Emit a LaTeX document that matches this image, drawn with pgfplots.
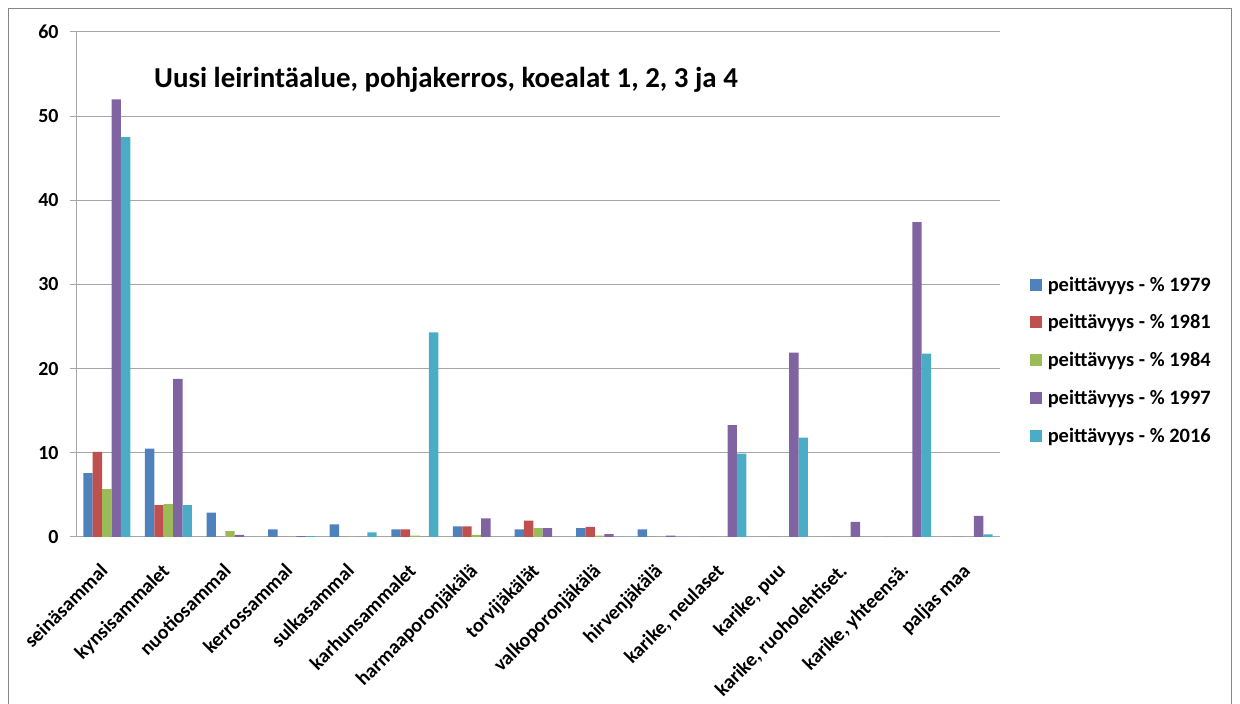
\documentclass[border=0pt]{standalone}
\usepackage{fontspec}
\setmainfont{Carlito}
\usepackage{pgfplots}
\pgfplotsset{compat=1.18}
\definecolor{c1}{HTML}{4F81BD}
\definecolor{c2}{HTML}{C0504D}
\definecolor{c3}{HTML}{9BBB59}
\definecolor{c4}{HTML}{8064A2}
\definecolor{c5}{HTML}{4BACC6}
\definecolor{gridc}{HTML}{A6A6A6}
\definecolor{framec}{HTML}{868686}
\begin{document}
\begin{tikzpicture}[x=1bp,y=1bp]
\useasboundingbox (0,0) rectangle (1240,704);
\draw[framec, line width=1.5bp] (8.5,0) -- (8.5,695.5) -- (1231.5,695.5) -- (1231.5,0);
\begin{axis}[
  at={(76bp,167bp)}, anchor=south west,
  width=924bp, height=505bp, scale only axis,
  ybar=0pt, bar width=9.4bp,
  xmin=-0.5, xmax=14.5, ymin=0, ymax=60,
  ytick={0,10,...,60},
  ymajorgrids, grid style={gridc, line width=1bp},
  axis x line*=bottom, axis y line*=left,
  axis line style={gridc, line width=1bp, -},
  xtick={0,...,14},
  xticklabels={seinäsammal,kynsisammalet,nuotiosammal,kerrossammal,sulkasammal,karhunsammalet,harmaaporonjäkälä,torvijäkälät,valkoporonjäkälä,hirvenjäkälä,{karike, neulaset},{karike, puu},{karike, ruoholehtiset.},{karike, yhteensä.},paljas maa},
  x tick label style={rotate=45, anchor=north east, font=\bfseries\fontsize{20}{24}\selectfont, inner sep=1bp, xshift=-18bp, yshift=-7bp},
  y tick label style={font=\bfseries\fontsize{20}{24}\selectfont, xshift=-8bp},
  /pgf/number format/assume math mode=true,
  major x tick style={draw=none},
  y tick style={gridc, line width=1bp},
  tick align=outside, major tick length=6bp,
  extra x ticks={-0.5,0.5,...,14.5},
  extra x tick labels={},
  extra x tick style={grid=none, major tick length=6bp, tick style={gridc, line width=1bp, draw=gridc}},
  legend style={at={(1.032,0.35)}, anchor=west, draw=none, fill=none,
    font=\bfseries\fontsize{20.5}{24}\selectfont, row sep=18bp, inner sep=0pt},
  legend cell align=left,
  legend image code/.code={\fill[#1] (0bp,-6bp) rectangle (12bp,6bp); \path (16bp,0bp);},
  clip=false,
]
\addplot[fill=c1, draw=none] coordinates {(0,7.6)(1,10.5)(2,2.9)(3,0.9)(4,1.5)(5,0.9)(6,1.25)(7,0.9)(8,1.05)(9,0.9)(10,0)(11,0)(12,0)(13,0)(14,0)};
\addplot[fill=c2, draw=none] coordinates {(0,10.1)(1,3.8)(2,0)(3,0)(4,0)(5,0.9)(6,1.25)(7,1.95)(8,1.2)(9,0)(10,0)(11,0)(12,0)(13,0)(14,0)};
\addplot[fill=c3, draw=none] coordinates {(0,5.7)(1,3.9)(2,0.7)(3,0)(4,0)(5,0.15)(6,0.25)(7,1.05)(8,0.15)(9,0)(10,0)(11,0)(12,0)(13,0)(14,0)};
\addplot[fill=c4, draw=none] coordinates {(0,52.0)(1,18.8)(2,0.25)(3,0.1)(4,0)(5,0)(6,2.2)(7,1.05)(8,0.35)(9,0.15)(10,13.3)(11,21.9)(12,1.8)(13,37.4)(14,2.5)};
\addplot[fill=c5, draw=none] coordinates {(0,47.5)(1,3.8)(2,0)(3,0.1)(4,0.55)(5,24.3)(6,0)(7,0)(8,0)(9,0)(10,9.9)(11,11.8)(12,0)(13,21.8)(14,0.3)};
\legend{peittävyys - \% 1979,peittävyys - \% 1981,peittävyys - \% 1984,peittävyys - \% 1997,peittävyys - \% 2016}
\end{axis}
\node[anchor=west, font=\bfseries\fontsize{29}{34}\selectfont, inner sep=0pt] at (154,624) {Uusi leirintäalue, pohjakerros, koealat 1, 2, 3 ja 4};
\end{tikzpicture}
\end{document}
